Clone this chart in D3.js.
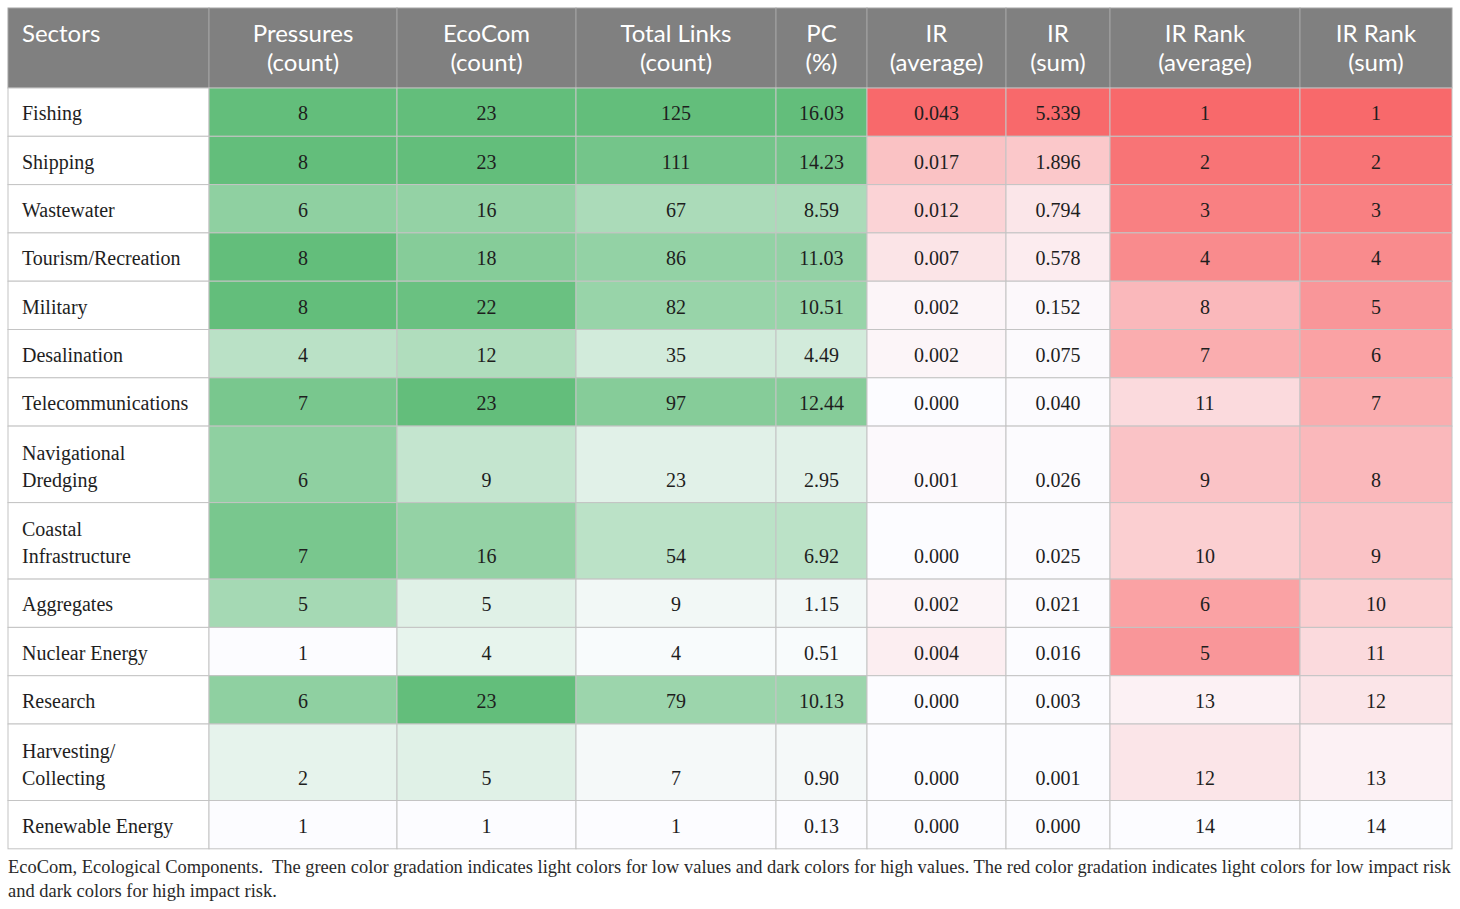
<!DOCTYPE html>
<html>
<head>
<meta charset="utf-8">
<script src="https://cdn.jsdelivr.net/npm/d3@7"></script>
<style>
  body { margin: 0; background: #fff; }
  svg { display: block; }
</style>
</head>
<body>
<script>
// table data
var headers = [
  ["Sectors"], ["Pressures", "(count)"], ["EcoCom", "(count)"], ["Total Links", "(count)"],
  ["PC", "(%)"], ["IR", "(average)"], ["IR", "(sum)"], ["IR Rank", "(average)"], ["IR Rank", "(sum)"]
];
var sectors = [
  ["Fishing"], ["Shipping"], ["Wastewater"], ["Tourism/Recreation"], ["Military"],
  ["Desalination"], ["Telecommunications"], ["Navigational", "Dredging"],
  ["Coastal", "Infrastructure"], ["Aggregates"], ["Nuclear Energy"], ["Research"],
  ["Harvesting/", "Collecting"], ["Renewable Energy"]
];
var pressures  = [8, 8, 6, 8, 8, 4, 7, 6, 7, 5, 1, 6, 2, 1];
var ecoCom     = [23, 23, 16, 18, 22, 12, 23, 9, 16, 5, 4, 23, 5, 1];
var totalLinks = [125, 111, 67, 86, 82, 35, 97, 23, 54, 9, 4, 79, 7, 1];
var pc         = [16.03, 14.23, 8.59, 11.03, 10.51, 4.49, 12.44, 2.95, 6.92, 1.15, 0.51, 10.13, 0.90, 0.13];
var irAvg      = [0.043, 0.017, 0.012, 0.007, 0.002, 0.002, 0.000, 0.001, 0.000, 0.002, 0.004, 0.000, 0.000, 0.000];
var irSum      = [5.339, 1.896, 0.794, 0.578, 0.152, 0.075, 0.040, 0.026, 0.025, 0.021, 0.016, 0.003, 0.001, 0.000];
var rankAvg    = [1, 2, 3, 4, 8, 7, 11, 9, 10, 6, 5, 13, 12, 14];
var rankSum    = [1, 2, 3, 4, 5, 6, 7, 8, 9, 10, 11, 12, 13, 14];
var footnote = [
  "EcoCom, Ecological Components.  The green color gradation indicates light colors for low values and dark colors for high values. The red color gradation indicates light colors for low impact risk",
  "and dark colors for high impact risk."
];

var width = 1460;
var height = 909;
var green = "#63BE7B", red = "#F8696B", low = "#FCFCFF";

// columns: values, formatter, colour, reversed (rank: low number = dark)
var columns = [
  { values: pressures,  fmt: d3.format("d"),   color: green },
  { values: ecoCom,     fmt: d3.format("d"),   color: green },
  { values: totalLinks, fmt: d3.format("d"),   color: green },
  { values: pc,         fmt: d3.format(".2f"), color: green },
  { values: irAvg,      fmt: d3.format(".3f"), color: red },
  { values: irSum,      fmt: d3.format(".3f"), color: red },
  { values: rankAvg,    fmt: d3.format("d"),   color: red, reverse: true },
  { values: rankSum,    fmt: d3.format("d"),   color: red, reverse: true }
];
columns.forEach(function (c) {
  var ext = d3.extent(c.values);
  c.scale = d3.scaleLinear()
    .domain(c.reverse ? [ext[1], ext[0]] : ext)
    .range([low, c.color])
    .interpolate(d3.interpolateRgb);
});

var colEdges = [8, 209, 397, 576, 776, 867, 1006, 1110, 1300, 1452];
var tableTop = 8, headH = 80, singleH = 48.3, doubleH = 76.5;

var rowTops = [];
var yy = tableTop + headH;
sectors.forEach(function (s) {
  rowTops.push(yy);
  yy += s.length > 1 ? doubleH : singleH;
});
var tableBottom = yy;

var svg = d3.select("body")
  .append("svg")
  .attr("width", width)
  .attr("height", height);

// header
var head = svg.append("g").classed("header", true);
headers.forEach(function (h, i) {
  var x0 = colEdges[i], x1 = colEdges[i + 1];
  head.append("rect")
    .attr("x", x0).attr("y", tableTop)
    .attr("width", x1 - x0).attr("height", headH)
    .attr("fill", "#808080")
    .attr("stroke", "#a3a3a3")
    .attr("stroke-width", 1);
  var t = head.append("text")
    .attr("font-family", "Lato, 'Open Sans', sans-serif")
    .attr("font-size", 24)
    .attr("fill", "#fff")
    .attr("text-anchor", i === 0 ? "start" : "middle");
  h.forEach(function (line, k) {
    t.append("tspan")
      .attr("x", i === 0 ? x0 + 14 : (x0 + x1) / 2)
      .attr("y", tableTop + 34 + k * 29)
      .text(line);
  });
});

// body rows
var body = svg.append("g").classed("body", true);
sectors.forEach(function (s, r) {
  var y0 = rowTops[r];
  var h = s.length > 1 ? doubleH : singleH;
  var base = y0 + h - 16;
  var row = body.append("g").classed("row", true);

  row.append("rect")
    .attr("x", colEdges[0]).attr("y", y0)
    .attr("width", colEdges[1] - colEdges[0]).attr("height", h)
    .attr("fill", "#fff")
    .attr("stroke", "#c4c4c4");
  var name = row.append("text")
    .attr("font-family", "'Liberation Serif', 'Times New Roman', serif")
    .attr("font-size", 20)
    .attr("fill", "#1e1e1e");
  s.forEach(function (line, k) {
    name.append("tspan")
      .attr("x", colEdges[0] + 14)
      .attr("y", base - (s.length - 1 - k) * 27)
      .text(line);
  });

  columns.forEach(function (c, j) {
    var x0 = colEdges[j + 1], x1 = colEdges[j + 2];
    var v = c.values[r];
    row.append("rect")
      .attr("x", x0).attr("y", y0)
      .attr("width", x1 - x0).attr("height", h)
      .attr("fill", c.scale(v))
      .attr("stroke", "#c4c4c4");
    row.append("text")
      .attr("x", (x0 + x1) / 2)
      .attr("y", base)
      .attr("text-anchor", "middle")
      .attr("font-family", "'Liberation Serif', 'Times New Roman', serif")
      .attr("font-size", 20)
      .attr("fill", "#1e1e1e")
      .text(c.fmt(v));
  });
});

// footnote
var note = svg.append("g").classed("footnote", true);
var fs = 18;
var first = note.append("text")
  .attr("x", 8).attr("y", tableBottom + 24)
  .attr("font-family", "'Liberation Serif', 'Times New Roman', serif")
  .attr("font-size", fs)
  .attr("fill", "#2a2a2a")
  .attr("xml:space", "preserve")
  .text(footnote[0]);
var len = first.node().getComputedTextLength();
fs = fs * 1444 / len;
first.attr("font-size", fs);
note.append("text")
  .attr("x", 8).attr("y", tableBottom + 48)
  .attr("font-family", "'Liberation Serif', 'Times New Roman', serif")
  .attr("font-size", fs)
  .attr("fill", "#2a2a2a")
  .text(footnote[1]);
</script>
</body>
</html>
